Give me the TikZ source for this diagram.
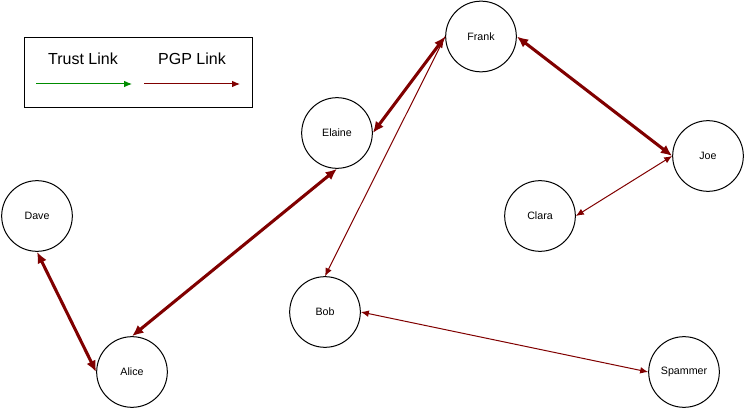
\documentclass[tikz,border=0pt]{standalone}
\usepackage{fontspec}
\setmainfont{Liberation Sans}
\usetikzlibrary{arrows.meta}
\definecolor{pgpred}{RGB}{128,0,0}
\definecolor{trustgreen}{RGB}{0,140,0}
\tikzset{
  person/.style={draw,circle,line width=0.75pt,minimum size=53pt,inner sep=0pt,font=\fontsize{8}{9}\selectfont},
  pgp/.style={draw=pgpred,line width=0.75pt,{Latex[length=6pt,width=5pt]}-{Latex[length=6pt,width=5pt]}},
  pgpthick/.style={draw=pgpred,line width=2.3pt,{Latex[length=8.5pt,width=7.5pt]}-{Latex[length=8.5pt,width=7.5pt]}},
  legendtext/.style={font=\fontsize{12}{14}\selectfont}
}
\begin{document}
\begin{tikzpicture}[x=0.75pt,y=-0.75pt]
  \useasboundingbox (0,0) rectangle (745,409);
  \draw
    (37,216) node[person] (dave){Dave}
    (132,372) node[person] (alice){Alice}
    (337,133) node[person] (elaine){Elaine}
    (481,36.5) node[person] (frank){Frank}
    (708,156) node[person] (joe){Joe}
    (540,216) node[person] (clara){Clara}
    (325,312) node[person] (bob){Bob}
    (684,372) node[person] (spammer){Spammer};
  % legend
  \node[draw,line width=0.75pt,minimum width=171pt,minimum height=53pt,inner sep=0pt] (legend) at (138,72.5) {};
  \node[legendtext] (trust) at (83,59) {Trust Link};
  \node[legendtext] (pgplabel) at (192,59) {PGP Link};
  \coordinate (t1) at (36,84);
  \coordinate (t2) at (132,84);
  \coordinate (p1) at (144,84);
  \coordinate (p2) at (240,84);
  \draw[trustgreen,line width=0.75pt,-{Latex[length=6pt,width=5pt]}] (t1) -- (t2);
  \draw[pgpred,line width=0.75pt,-{Latex[length=6pt,width=5pt]}] (p1) -- (p2);
  \begin{scope}[pgpthick]
    \draw (dave.south) -- (alice.west);
    \draw (alice.north) -- (elaine.south);
    \draw (elaine.east) -- (frank.west);
    \draw (frank.east) -- (joe.west);
  \end{scope}
  \begin{scope}[pgp]
    \draw[-{Latex[length=6pt,width=5pt]}] (frank.west) -- (bob.north);
    \draw (joe.west) -- (clara.east);
    \draw (bob.east) -- (spammer.west);
  \end{scope}
\end{tikzpicture}
\end{document}
